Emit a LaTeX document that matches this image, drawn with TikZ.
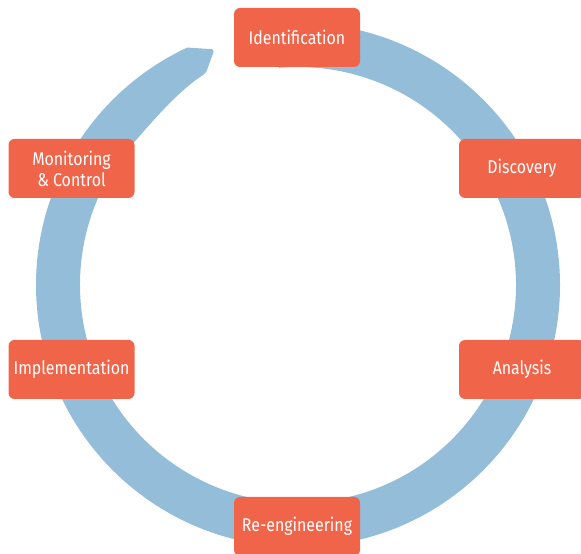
\documentclass[tikz,border=0pt]{standalone}
\usepackage{fontspec}
\setmainfont{Fira Sans}[FakeStretch=0.86]
\usetikzlibrary{calc,positioning,backgrounds}

\definecolor{ringblue}{HTML}{93BDD8}
\definecolor{stageorange}{HTML}{F0654A}

\tikzset{
  stage/.style={fill=stageorange, text=white, rounded corners=6pt,
    minimum width=126pt, minimum height=59pt, inner sep=2pt,
    align=center, font=\fontsize{18.5}{21}\selectfont},
}

\begin{document}
\begin{tikzpicture}[x=1pt,y=1pt]
        \useasboundingbox (0,0) rectangle (581,554);

        \node[stage] (identification) at (297,516.5) {Identification};
        \node[stage] (discovery) at (522,385.5) {Discovery};
        \node[stage] (analysis) at (522,184.5) {Analysis};
        \node[stage] (reengineering) at (297,27.5) {Re-engineering};
        \node[stage] (implementation) at (71.5,184.5) {Implementation};
        \node[stage] (monitoring) at (71.5,385.5) {Monitoring\\\& Control};

        % the cycle ring behind the stages
        \coordinate (ctr) at (298,269);
        \begin{scope}[on background layer]
          \fill[ringblue] ($(ctr)+(95:262)$) arc[start angle=95, end angle=-245, radius=262]
            [rounded corners=3pt] -- ($(ctr)+(-250.5:250)$) -- ($(ctr)+(-246.5:231)$) [sharp corners]
            .. controls ($(ctr)+(-238:228)$) and ($(ctr)+(-228:219)$) .. ($(ctr)+(-216:218)$)
            arc[start angle=-216, end angle=95, radius=218] -- cycle;
        \end{scope}
\end{tikzpicture}
\end{document}
